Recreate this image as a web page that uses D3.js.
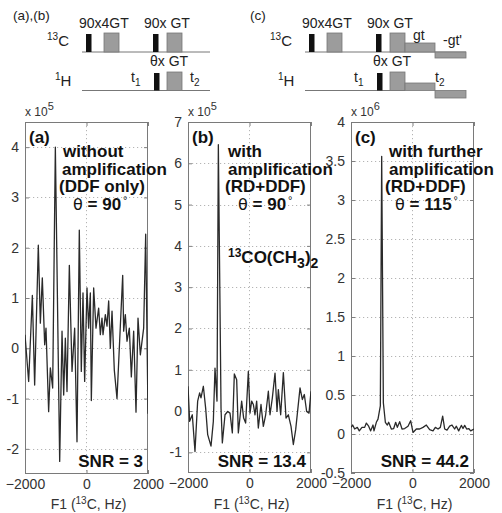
<!DOCTYPE html>
<html>
<head>
<meta charset="utf-8">
<script src="https://cdn.jsdelivr.net/npm/d3@7"></script>
<style>
  body { margin: 0; background: #fff; }
  svg { display: block; font-family: "Liberation Sans", Arial, sans-serif; }
  .tick text { fill: #333; font-size: 14px; }
  .tick line { stroke: #808080; }
</style>
</head>
<body>
<svg id="fig" width="502" height="513"></svg>
<script>
// spectra: frequency (Hz) and amplitude (in units of the axis exponent)
const hzA = [-2000,-1881,-1761,-1686,-1567,-1501,-1437,-1360,-1317,-1231,-1176,-1100,-1013,-872,-796,-742,-688,-634,-558,-471,-385,-309,-234,-169,-114,-60,16,70,125,157,233,309,395,450,504,537,613,667,721,775,830,905,992,1100,1177,1209,1263,1317,1393,1458,1534,1610,1675,1751,1859,1925,2000];
const ampA = [0.27,-0.66,1.05,-0.73,2.05,0.5,1.4,0.07,0.4,-1.26,-0.39,-0.79,4.0,-2.25,0.34,-0.93,0.2,-0.86,1.65,-0.46,0.4,-1.86,2.35,-0.46,1.1,-0.66,1.2,0.4,1.1,-1.04,1.2,0.4,0.8,0.27,0.6,0.27,0.67,0.44,0.94,0.0,0.74,-0.44,-1.0,0.44,1.45,0.34,0.67,0.14,0.4,-0.57,0.34,-1.27,0.6,-0.13,0.4,2.27,-1.3];

const hzB = [-2000,-1946,-1860,-1773,-1686,-1621,-1578,-1501,-1426,-1360,-1252,-1176,-1122,-1057,-1013,-926,-883,-796,-710,-634,-558,-493,-417,-363,-255,-190,-125,-38,16,70,125,179,233,287,374,450,526,613,667,743,830,895,938,1014,1101,1187,1263,1350,1426,1502,1643,1718,1783,1859,1935,2000];
const ampB = [0.6,-0.25,-0.09,-0.98,0.24,0.44,0.32,0.6,0.07,-0.57,-0.85,-0.25,1.04,0.24,6.45,0.07,-0.77,-0.09,-0.01,-0.05,-0.53,0.9,0.76,-0.53,0.24,-0.17,-0.29,0.96,-0.05,0.24,0.16,-0.09,0.24,-0.41,0.16,-0.37,-0.09,0.48,-0.09,0.32,0.92,-0.01,0.52,-0.09,0.93,-0.17,-0.09,-0.37,-0.81,-0.45,0.56,0.28,0.4,-0.01,-0.05,0.48];

const hzC = [-2000,-1946,-1881,-1795,-1730,-1643,-1556,-1501,-1426,-1360,-1284,-1252,-1176,-1122,-1046,-1002,-948,-883,-818,-775,-688,-612,-547,-493,-417,-341,-255,-146,-60,16,125,233,341,450,558,667,743,830,905,981,1047,1122,1209,1284,1371,1426,1502,1588,1643,1697,1762,1827,1892,2000];
const ampC = [0.085,0.115,0.064,0.085,0.04,0.085,0.085,0.14,0.1,0.04,0.115,0.04,0.15,0.19,0.36,3.56,0.4,0.15,0.115,0.15,0.064,0.07,0.15,0.085,0.158,0.064,0.07,0.1,0.17,0.02,0.064,0.064,0.085,0.115,0.055,0.04,0.085,0.064,0.085,0.23,0.064,0.05,0.1,0.115,0.064,0.1,0.04,0.11,0.07,0.11,0.064,0.07,0.04,0.064];

const xTicks = [-2000, 0, 2000];
const yTicksA = [-2, -1, 0, 1, 2, 3, 4];
const yTicksB = [-1, 0, 1, 2, 3, 4, 5, 6, 7];
const yTicksC = [-0.5, 0, 0.5, 1, 1.5, 2, 2.5, 3, 3.5, 4];
const snr = ["3", "13.4", "44.2"];
const theta = ["90", "90", "115"];

const svg = d3.select("#fig");
const font = '"Liberation Sans", Arial, sans-serif';

// ---------- pulse sequences ----------
function seqText(g, x, y, parts, size) {
  const t = g.append("text").attr("x", x).attr("y", y)
    .attr("font-size", size || 14).attr("fill", "#222");
  parts.forEach(p => {
    const s = t.append("tspan").text(p.t);
    if (p.sup) s.attr("font-size", 10).attr("dy", -6);
    if (p.sub) s.attr("font-size", 10).attr("dy", 4);
    if (p.back) s.attr("dy", p.back);
  });
  return t;
}

function sequence(x0, extra) {
  const g = svg.append("g").attr("transform", `translate(${x0},0)`);
  const end = extra ? 161 : 128;
  g.append("line").attr("x1", 0).attr("x2", end).attr("y1", 52).attr("y2", 52).attr("stroke", "#777");
  g.append("line").attr("x1", 0).attr("x2", extra ? 100 : 128).attr("y1", 90.5).attr("y2", 90.5).attr("stroke", "#777");
  const black = [[4, 34, 52], [71, 34, 52], [72, 73, 90.5]];
  black.forEach(b => g.append("rect").attr("x", b[0]).attr("y", b[1]).attr("width", 5.5).attr("height", b[2] - b[1]).attr("fill", "#111"));
  const gray = [[22, 33, 52], [85, 33, 52], [85, 72, 90.5]];
  if (extra) gray.push([100, 43, 52], [130, 52, 58], [100, 83, 90.5], [130, 90.5, 98]);
  gray.forEach((b, i) => g.append("rect").attr("x", b[0]).attr("y", b[1])
    .attr("width", i > 2 ? (i % 2 ? 30 : 31) : 15).attr("height", b[2] - b[1])
    .attr("fill", "#9c9c9c").attr("stroke", "#777").attr("stroke-width", 0.8));
  seqText(g, -3, 28, [{t: "90x4GT"}]);
  seqText(g, 62, 28, [{t: "90x GT"}]);
  seqText(g, 68, 66, [{t: "θx GT"}]);
  seqText(g, 49, 82, [{t: "t"}, {t: "1", sub: true}]);
  if (extra) {
    seqText(g, 108, 40, [{t: "gt"}]);
    seqText(g, 138, 45, [{t: "-gt'"}]);
    seqText(g, 130, 82, [{t: "t"}, {t: "2", sub: true}]);
  } else {
    seqText(g, 108, 82, [{t: "t"}, {t: "2", sub: true}]);
  }
  seqText(g, -35, 46, [{t: "13", sup: true}, {t: "C", back: 6}], 15);
  seqText(g, -27, 86, [{t: "1", sup: true}, {t: "H", back: 6}], 15);
}
svg.append("text").attr("x", 13).attr("y", 20).attr("font-size", 13.5).attr("fill", "#222").text("(a),(b)");
svg.append("text").attr("x", 250).attr("y", 20).attr("font-size", 13.5).attr("fill", "#222").text("(c)");
sequence(82, false);
sequence(305, true);

// ---------- spectra ----------
const panels = [
  {id: "a", hz: hzA, amp: ampA, L: 25, R: 148, T: 122, B: 474, dom: [-2.5, 4.5], ticks: yTicksA, exp: "5",
   lines: [["without", 38, 157], ["amplification", 37, 175], ["(DDF only)", 34, 192]], th: 48},
  {id: "b", hz: hzB, amp: ampB, L: 188, R: 311, T: 122, B: 473, dom: [-1.5, 7], ticks: yTicksB, exp: "5",
   lines: [["with", 40, 157], ["amplification", 40, 175], ["(RD+DDF)", 37, 192]], th: 50},
  {id: "c", hz: hzC, amp: ampC, L: 351, R: 474, T: 122, B: 473, dom: [-0.5, 4], ticks: yTicksC, exp: "6",
   lines: [["with further", 38, 157], ["amplification", 38, 175], ["(RD+DDF)", 34, 192]], th: 44}
];

panels.forEach((p, k) => {
  const x = d3.scaleLinear().domain([-2000, 2000]).range([p.L, p.R]);
  const y = d3.scaleLinear().domain(p.dom).range([p.B, p.T]);
  const g = svg.append("g");

  g.append("rect").attr("x", p.L).attr("y", p.T).attr("width", p.R - p.L).attr("height", p.B - p.T).attr("fill", "#fff");

  // dotted grid
  g.selectAll(".gy").data(p.ticks.filter(v => v > p.dom[0] && v < p.dom[1])).join("line")
    .attr("x1", p.L).attr("x2", p.R).attr("y1", d => Math.round(y(d)) + 0.5).attr("y2", d => Math.round(y(d)) + 0.5)
    .attr("stroke", "#b4b4b4").attr("stroke-dasharray", "1.2,2.8");
  g.append("line").attr("x1", x(0)).attr("x2", x(0)).attr("y1", p.T).attr("y2", p.B)
    .attr("stroke", "#b4b4b4").attr("stroke-dasharray", "1.2,2.8");

  // axes with inward ticks
  const ax = g.append("g").attr("transform", `translate(0,${p.B})`)
    .call(d3.axisBottom(x).tickValues(xTicks).tickSize(-4).tickPadding(5).tickFormat(d3.format("d")));
  const ay = g.append("g").attr("transform", `translate(${p.L},0)`)
    .call(d3.axisLeft(y).tickValues(p.ticks).tickSize(-4).tickPadding(6).tickFormat(d => String(d)));
  g.append("g").attr("transform", `translate(0,${p.T})`)
    .call(d3.axisTop(x).tickValues(xTicks).tickSize(-4).tickFormat(""));
  g.append("g").attr("transform", `translate(${p.R},0)`)
    .call(d3.axisRight(y).tickValues(p.ticks).tickSize(-4).tickFormat(""));
  g.selectAll(".domain").remove();
  g.selectAll("text").attr("font-family", font);

  g.append("rect").attr("x", p.L + 0.5).attr("y", p.T + 0.5).attr("width", p.R - p.L - 1).attr("height", p.B - p.T - 1)
    .attr("fill", "none").attr("stroke", "#7a7a7a");

  // spectrum
  svg.append("clipPath").attr("id", "clip" + p.id).append("rect")
    .attr("x", p.L).attr("y", p.T).attr("width", p.R - p.L).attr("height", p.B - p.T);
  const pts = p.hz.map((h, i) => [h, p.amp[i]]);
  g.append("path").datum(pts)
    .attr("clip-path", `url(#clip${p.id})`)
    .attr("d", d3.line().x(d => x(d[0])).y(d => y(d[1])))
    .attr("fill", "none").attr("stroke", "#2a2a2a").attr("stroke-width", 1.3).attr("stroke-linejoin", "round");

  // exponent
  const e = g.append("text").attr("x", p.L).attr("y", 116).attr("font-size", 12).attr("fill", "#333");
  e.append("tspan").text("x 10");
  e.append("tspan").text(p.exp).attr("font-size", 11).attr("dy", -6);

  // x label
  const xl = g.append("text").attr("x", (p.L + p.R) / 2 + 2).attr("y", 509).attr("text-anchor", "middle")
    .attr("font-size", 14).attr("fill", "#333");
  xl.append("tspan").text("F1 (");
  xl.append("tspan").text("13").attr("font-size", 10).attr("dy", -5);
  xl.append("tspan").text("C, Hz)").attr("dy", 5);

  // annotations
  const bold = (tx, ty, s) => g.append("text").attr("x", tx).attr("y", ty)
    .attr("font-size", 17).attr("font-weight", "bold").attr("fill", "#111").text(s);
  bold(p.L + 4, 143, `(${p.id})`);
  p.lines.forEach(l => bold(p.L + l[1], l[2], l[0]));
  const th = g.append("text").attr("x", p.L + p.th).attr("y", 210).attr("font-size", 17).attr("fill", "#111");
  th.append("tspan").text("θ").attr("font-family", "DejaVu Sans").attr("font-size", 16);
  th.append("tspan").text(" = " + theta[k]).attr("font-weight", "bold");
  th.append("tspan").text("°").attr("font-size", 11).attr("dy", -6).attr("dx", 2);
  g.append("text").attr("x", p.R - 5).attr("y", 467).attr("text-anchor", "end")
    .attr("font-size", 17).attr("font-weight", "bold").attr("fill", "#111").text("SNR = " + snr[k]);

  if (p.id === "b") {
    const m = g.append("text").attr("x", p.L + 40).attr("y", 263).attr("font-size", 17)
      .attr("font-weight", "bold").attr("fill", "#111");
    m.append("tspan").text("13").attr("font-size", 12).attr("dy", -6);
    m.append("tspan").text("CO(CH").attr("dy", 6);
    m.append("tspan").text("3").attr("font-size", 14).attr("dy", 5);
    m.append("tspan").text(")").attr("dy", -5);
    m.append("tspan").text("2").attr("font-size", 14).attr("dy", 5);
  }
});
</script>
</body>
</html>
